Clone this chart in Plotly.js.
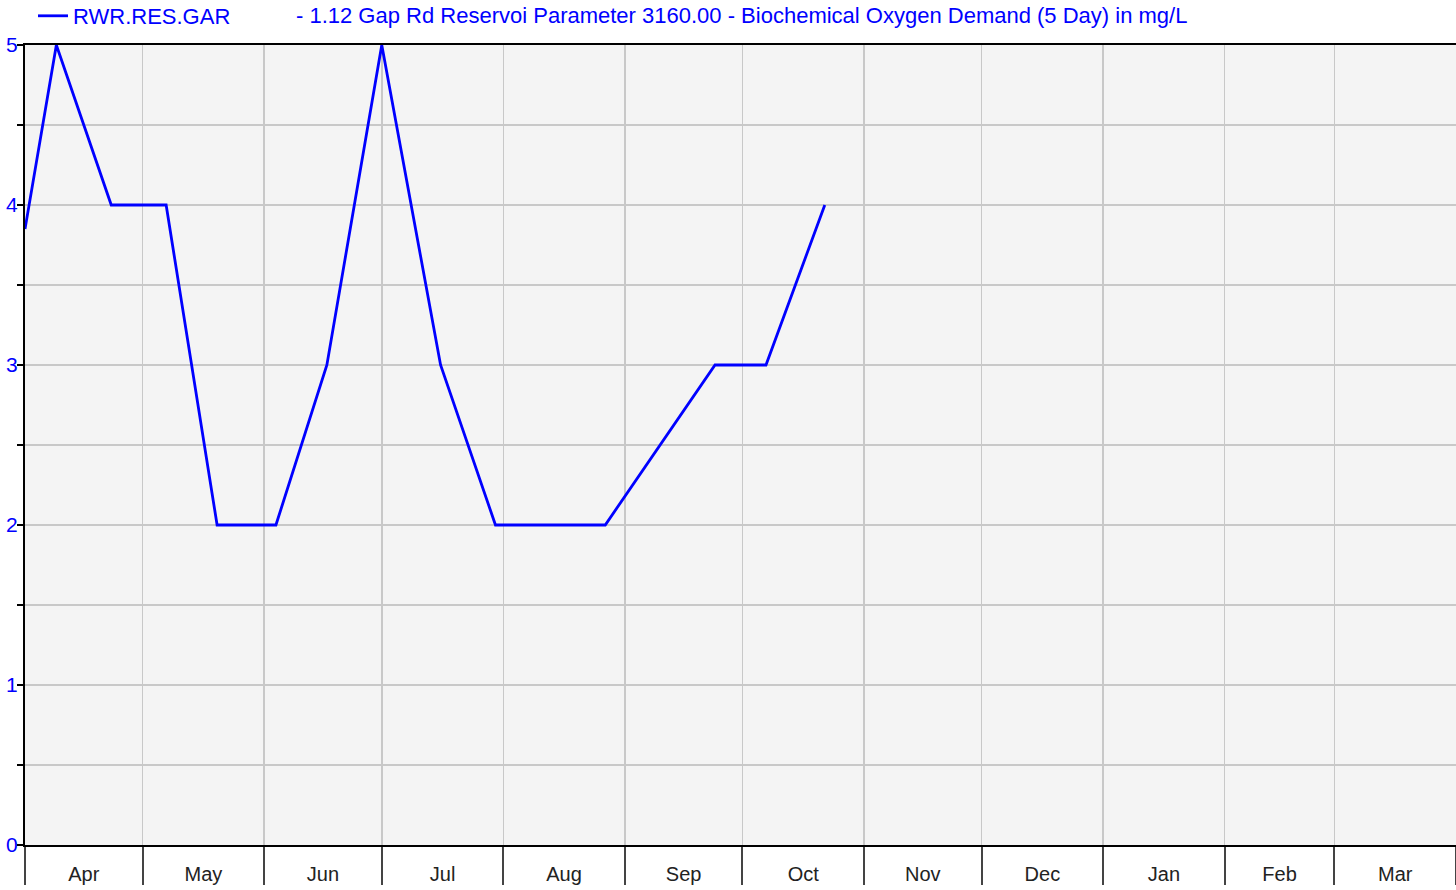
<!DOCTYPE html>
<html><head><meta charset="utf-8">
<script src="https://cdn.plot.ly/plotly-3.0.1.min.js"></script>
<style>html,body{margin:0;padding:0;background:#fff;}#chart{width:1456px;height:890px;}</style>
</head><body><div id="chart"></div>
<script>
const seriesName = "RWR.RES.GAR";
const description = "- 1.12 Gap Rd Reservoi Parameter 3160.00 - Biochemical Oxygen Demand (5 Day) in mg/L";
const sampleDates = ["2021-04-01","2021-04-09","2021-04-23","2021-05-07","2021-05-20","2021-06-04","2021-06-17","2021-07-01","2021-07-16","2021-07-30","2021-08-27","2021-09-24","2021-10-07","2021-10-22"];
const bodValues = [3.85,5,4,4,2,2,3,5,3,2,2,3,3,4];
const yTickVals = [0,0.5,1,1.5,2,2.5,3,3.5,4,4.5,5];
const yTickText = ["0","","1","","2","","3","","4","","5"];
const xRange = ["2021-04-01","2022-04-01"];

const trace = {
  x: sampleDates, y: bodValues, type: "scatter", mode: "lines",
  name: seriesName, line: {color: "#0000ff", width: 2.8}, cliponaxis: true
};
const layout = {
  width: 1456, height: 890,
  margin: {l: 25, r: 0, t: 45, b: 45, pad: 0, autoexpand: false},
  paper_bgcolor: "#ffffff", plot_bgcolor: "#f4f4f4",
  font: {family: "Liberation Sans, Arial, sans-serif", size: 20, color: "#222"},
  showlegend: true,
  legend: {orientation: "h", x: 33/1456, y: 1 + 50/800, xref: "container", yref: "paper", xanchor: "left", yanchor: "top",
           font: {size: 22, color: "#0000ff"}, bgcolor: "rgba(0,0,0,0)", itemwidth: 30},
  annotations: [{text: description, xref: "paper", yref: "paper", x: (295-25)/1431, y: 1 + 43/800, xanchor: "left", yanchor: "top",
                 showarrow: false, font: {size: 22, color: "#0000ff"}, borderpad: 0}],
  xaxis: {
    type: "date", range: xRange, tick0: "2021-04-01", dtick: "M1", tickformat: "%b", ticklabelmode: "period",
    showgrid: true, gridcolor: "#c8c8c8", gridwidth: 1.5,
    ticks: "outside", ticklen: 38, tickwidth: 2, tickcolor: "#444",
    ticklabelstandoff: -28, tickfont: {size: 20, color: "#222"}, automargin: false,
    showline: true, linecolor: "#000", linewidth: 2, mirror: true, zeroline: false, fixedrange: true
  },
  yaxis: {
    range: [0, 5], tickmode: "array", tickvals: yTickVals, ticktext: yTickText,
    showgrid: true, gridcolor: "#c8c8c8", gridwidth: 1.5,
    ticks: "outside", ticklen: 6, tickwidth: 1.5, tickcolor: "#000", automargin: false,
    tickfont: {size: 21, color: "#0000ff"}, ticklabelstandoff: -5,
    showline: true, linecolor: "#000", linewidth: 2, zeroline: false, fixedrange: true
  }
};
Plotly.newPlot("chart", [trace], layout, {displayModeBar: false, staticPlot: true});
</script></body></html>
